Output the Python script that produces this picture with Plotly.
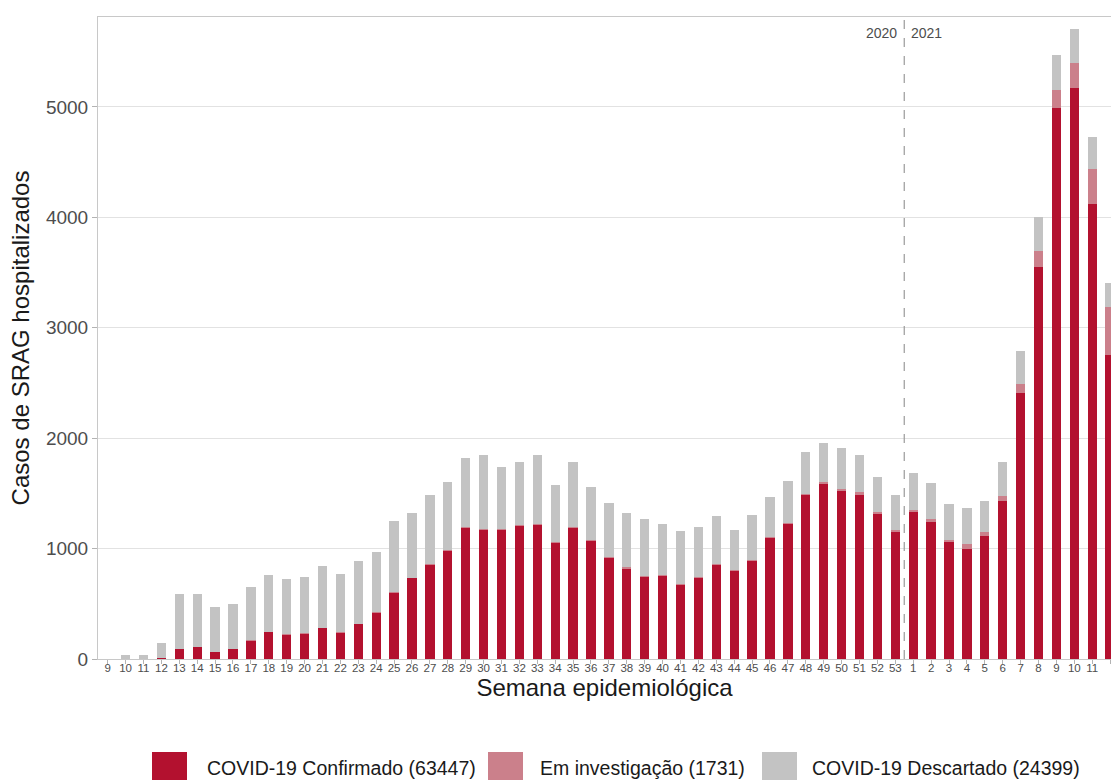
import plotly.graph_objects as go

# ---------------- data ----------------
weeks_2020 = list(range(9, 54))
weeks_2021 = list(range(1, 13))
week_labels = [str(w) for w in weeks_2020 + weeks_2021]

confirmado = [
    0, 0, 0, 8, 88, 112, 60, 94, 169, 245, 223, 232, 281, 242, 317, 423,
    604, 734, 857, 981, 1193, 1175, 1175, 1208, 1217, 1057, 1190, 1072, 915, 824,
    743, 752, 676, 734, 857, 803, 894, 1096, 1226, 1488, 1590, 1530, 1489, 1320, 1158,
    1328, 1239, 1057, 997, 1118, 1433, 2409, 3551, 4992, 5173, 4120, 2752,
]
investigacao = [
    0, 0, 0, 0, 0, 0, 0, 0, 2, 2, 2, 3, 3, 3, 3, 3,
    4, 4, 4, 4, 5, 5, 5, 5, 5, 5, 5, 5, 5, 5,
    5, 5, 5, 5, 5, 5, 5, 5, 6, 6, 10, 10, 20, 10, 8,
    25, 25, 20, 48, 28, 40, 81, 141, 161, 222, 315, 436,
]
descartado = [
    0, 36, 36, 134, 501, 477, 414, 404, 478, 517, 503, 508, 561, 528, 568, 540,
    645, 582, 627, 621, 622, 668, 562, 574, 629, 511, 589, 481, 496, 491,
    523, 469, 478, 454, 436, 364, 405, 369, 380, 381, 354, 374, 343, 316, 323,
    334, 326, 323, 323, 287, 315, 303, 307, 315, 315, 291, 222,
]

series_names = [
    "COVID-19 Confirmado (63447)",
    "Em investigação (1731)",
    "COVID-19 Descartado (24399)",
]
series_colors = ["#B3112F", "#CB808B", "#C3C3C3"]
year_labels = ["2020", "2021"]
y_ticks = [0, 1000, 2000, 3000, 4000, 5000]

# ---------------- layout helpers (pixels -> paper) ----------------
FIG_W, FIG_H = 1111, 780
L, R, T, B = 98, 0, 17, 121
PW, PH = FIG_W - L - R, FIG_H - T - B


def px_x(px):
    return (px - L) / PW


def px_y(py):
    return (FIG_H - B - py) / PH


x_idx = list(range(len(week_labels)))
year_break = len(weeks_2020) - 0.5

fig = go.Figure()
for name, vals, col in zip(series_names, [confirmado, investigacao, descartado], series_colors):
    fig.add_bar(
        x=x_idx, y=vals, name=name, marker_color=col, marker_line_width=0,
        width=0.52, showlegend=False,
    )

font_family = "Liberation Sans, Arial, sans-serif"

fig.update_layout(
    barmode="stack",
    width=FIG_W, height=FIG_H,
    margin=dict(l=L, r=R, t=T, b=B, pad=0),
    plot_bgcolor="white", paper_bgcolor="white",
    font=dict(family=font_family, color="#4d4d4d"),
    xaxis=dict(
        range=[-0.54, 56.05],
        tickmode="array", tickvals=x_idx, ticktext=week_labels,
        tickfont=dict(size=11.5, color="#4d4d4d"),
        ticks="outside", ticklen=4, tickcolor="#b3b3b3", tickwidth=1,
        ticklabelstandoff=-6,
        showgrid=False, zeroline=False,
        showline=True, mirror=True, linecolor="#c8c8c8", linewidth=1,
        title=dict(text="Semana epidemiológica", font=dict(size=24, color="#1a1a1a"), standoff=5),
    ),
    yaxis=dict(
        range=[0, 5815],
        tickmode="array", tickvals=y_ticks, ticktext=[str(v) for v in y_ticks],
        tickfont=dict(size=19, color="#4d4d4d"),
        ticks="outside", ticklen=5, tickcolor="#b3b3b3", tickwidth=1,
        showgrid=True, gridcolor="#e2e2e2", gridwidth=1,
        zeroline=False,
        showline=True, mirror=False, linecolor="#c8c8c8", linewidth=1,
        title=dict(text="Casos de SRAG hospitalizados", font=dict(size=24, color="#1a1a1a"), standoff=9),
    ),
)

# year separator
fig.add_shape(type="line", xref="x", yref="paper", x0=year_break, x1=year_break, y0=0, y1=1,
              line=dict(color="#9a9a9a", width=1.2, dash="dash"))
fig.add_annotation(x=year_break, xref="x", y=px_y(33), yref="paper", text=year_labels[0],
                   xanchor="right", yanchor="middle", xshift=-5, showarrow=False,
                   font=dict(size=14, color="#4d4d4d"))
fig.add_annotation(x=year_break, xref="x", y=px_y(33), yref="paper", text=year_labels[1],
                   xanchor="left", yanchor="middle", xshift=5, showarrow=False,
                   font=dict(size=14, color="#4d4d4d"))

# custom legend
swatch_x = [152, 488, 762]
text_x = [205, 538, 810]
for name, col, sx, tx in zip(series_names, series_colors, swatch_x, text_x):
    fig.add_shape(type="rect", xref="paper", yref="paper",
                  x0=px_x(sx), x1=px_x(sx + 35), y0=px_y(787), y1=px_y(752),
                  fillcolor=col, line=dict(width=0))
    fig.add_annotation(x=px_x(tx), y=px_y(768), xref="paper", yref="paper", text=name,
                       xanchor="left", yanchor="middle", showarrow=False,
                       font=dict(size=19.5, color="#1a1a1a"))

fig.write_html(
    "out.html",
    config={"displayModeBar": False},
    post_script="document.body.style.margin='0';document.body.style.overflow='hidden';",
)
